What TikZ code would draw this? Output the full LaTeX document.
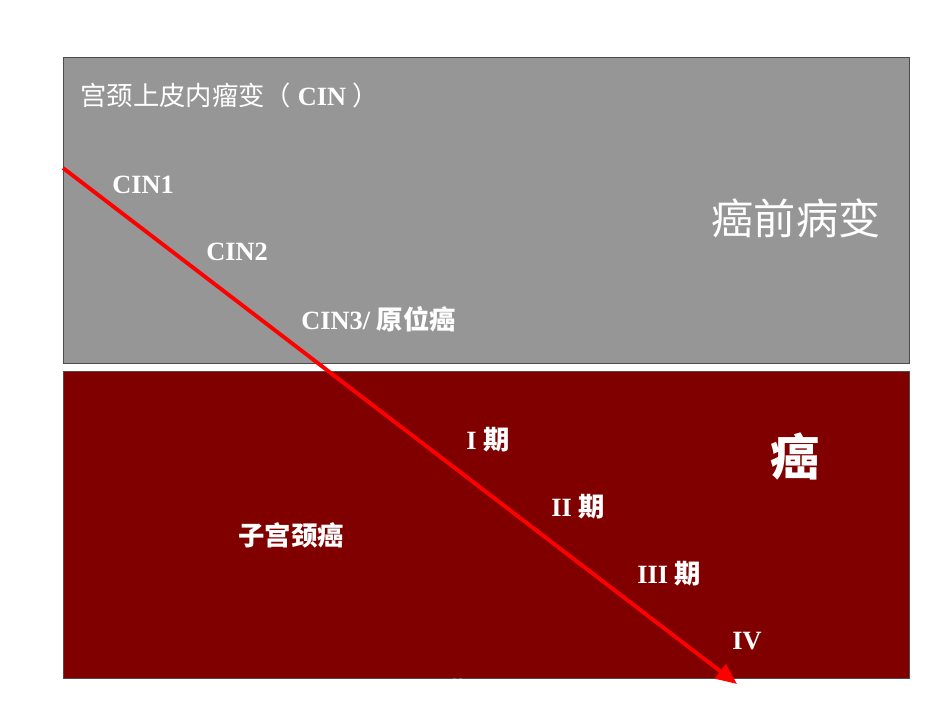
\documentclass[tikz,border=0pt]{standalone}
\usepackage{fontspec}
\setmainfont{Liberation Serif}
\newfontfamily\cjk{Noto Sans CJK SC}
\usetikzlibrary{arrows.meta}
\definecolor{panelgray}{HTML}{969696}
\definecolor{panelred}{HTML}{800000}
\tikzset{
  lbl/.style={text=white, font=\bfseries\fontsize{15}{17}\selectfont, anchor=west, inner sep=0pt},
  big/.style={text=white, font=\cjk\fontsize{24}{26}\selectfont, inner sep=0pt},
  arrow/.style={red, line width=2.2pt, -{Triangle[length=12pt,width=10pt]}}
}
\begin{document}
\begin{tikzpicture}[x=0.02cm,y=-0.02cm]
\useasboundingbox (0,0) rectangle (950,713);
\node (top) [draw=black!70, fill=panelgray, minimum width=16.92cm, minimum height=6.12cm, inner sep=0pt, anchor=north west] at (63,57) {};
\node (bot) [draw=black!70, fill=panelred, minimum width=16.92cm, minimum height=6.14cm, inner sep=0pt, anchor=north west] at (63,371) {};
\node (title) [lbl] at (80,95) {{\cjk\mdseries 宫颈上皮内瘤变（} CIN {\cjk\mdseries ）}};
\node (cin1) [lbl] at (112,185) {CIN1};
\node (cin2) [lbl] at (206,252) {CIN2};
\node (cin3) [lbl] at (301,319) {CIN3/ {\cjk 原位癌}};
\node (pre) [big] at (796,218) {癌前病变};
\node (ca) [big, font=\cjk\bfseries\fontsize{28}{30}\selectfont] at (795,457) {癌};
\node (cx) [lbl] at (238,535) {{\cjk 子宫颈癌}};
\node (s1) [lbl] at (466,440) {I {\cjk 期}};
\node (s2) [lbl] at (551,507) {II {\cjk 期}};
\node (s3) [lbl] at (637,574) {III {\cjk 期}};
\node (s4) [lbl] at (732,641) {IV};
\node (s4b) [lbl] at (450,692) {{\cjk 期}};
\coordinate (start) at (63,168);
\coordinate (end) at (737,684);
\draw [arrow] (start) -- (end);
\end{tikzpicture}
\end{document}
